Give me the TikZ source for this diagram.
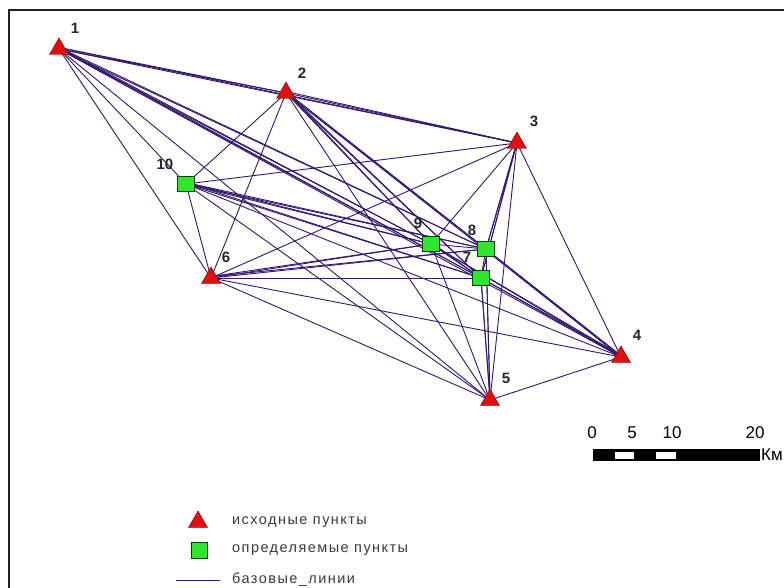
\documentclass[tikz,border=0pt]{standalone}
\usepackage{fontspec}
\setmainfont{Liberation Sans}
\usetikzlibrary{shapes.geometric}

\definecolor{liniya}{HTML}{33186E}
\definecolor{krasn}{HTML}{E01010}
\definecolor{zel}{HTML}{2EE62E}
\definecolor{ramka}{HTML}{222222}
\definecolor{legtext}{HTML}{3A3A3A}

\tikzset{
	ishod/.style = {regular polygon, regular polygon sides = 3, fill = krasn, draw = red!45!black, line width = 0.4pt, minimum size = 22pt, inner sep = 0pt},
	opred/.style = {rectangle, fill = zel, draw = green!25!black, line width = 0.5pt, minimum width = 17pt, minimum height = 15pt, inner sep = 0pt},
	bazlinija/.style = {liniya, line width = 0.9pt},
	nomer/.style = {font = \fontsize{15}{15}\selectfont\bfseries, text = black!85, inner sep = 0pt},
	shkala/.style = {font = \fontsize{17}{17}\selectfont, inner sep = 0pt},
	legenda/.style = {font = \fontsize{14.5}{15}\selectfont\addfontfeature{LetterSpace = 10}, text = legtext, inner sep = 0pt, anchor = west},
}

\begin{document}
\begin{tikzpicture}[x = 1pt, y = -1pt]
	\useasboundingbox (0, 0) rectangle (784, 588);
	\fill[white] (0, 0) rectangle (784, 588);
	
	%	ramka
	\draw[ramka, line width = 2pt] (9, 600) -- (9, 10) -- (790, 10);
	
	%	punkty
	\coordinate (p1) at (59, 49);
	\coordinate (p2) at (286, 93);
	\coordinate (p3) at (517, 143);
	\coordinate (p4) at (621, 357);
	\coordinate (p5) at (490, 400);
	\coordinate (p6) at (211, 278);
	\coordinate (p7) at (481, 278);
	\coordinate (p8) at (486, 249);
	\coordinate (p9) at (431, 244);
	\coordinate (p10) at (186, 184);
	
	%	bazovye linii - kazhdyj s kazhdym
	\foreach \a [evaluate = \a as \s using int(\a + 1)] in {1, ..., 9}
		\foreach \b in {\s, ..., 10}
			\draw[bazlinija] (p\a) -- (p\b);
	
	%	povtornye sessii - linii chut' sdvinuty
	\foreach \a/\b in {1/2, 2/3, 1/3, 10/9, 10/7, 10/8, 6/9, 6/8, 2/9, 2/8, 2/7,
			1/9, 1/8, 1/7, 4/7, 4/8, 4/9, 3/7, 3/8, 5/7, 5/8, 9/7}
		\draw[bazlinija] ([yshift = 1.5pt]p\a) -- (p\b);
	
	%	znachki
	\foreach \i in {1, ..., 6}
		\node[ishod] (t\i) at (p\i) {};
	\foreach \i in {7, ..., 10}
		\node[opred] (k\i) at (p\i) {};
	
	%	nomera
	\node[nomer] (n1) at (75, 28) {1};
	\node[nomer] (n2) at (302, 73) {2};
	\node[nomer] (n3) at (534, 121) {3};
	\node[nomer] (n4) at (637, 335) {4};
	\node[nomer] (n5) at (506, 378) {5};
	\node[nomer] (n6) at (226, 257) {6};
	\node[nomer] (n7) at (467, 257) {7};
	\node[nomer] (n8) at (472, 230) {8};
	\node[nomer] (n9) at (418, 223) {9};
	\node[nomer] (n10) at (165, 164) {10};
	
	%	masshtab
	\fill[black] (593, 449) rectangle (760, 461);
	\fill[white] (615, 452) rectangle (634, 459);
	\fill[white] (656, 452) rectangle (676, 459);
	\node[shkala] (s0) at (592, 433) {0};
	\node[shkala] (s5) at (632, 433) {5};
	\node[shkala] (s10) at (672, 433) {10};
	\node[shkala] (s20) at (755, 433) {20};
	\node[shkala, anchor = west] (km) at (761, 455) {Км};
	
	%	legenda
	\node[ishod] (lt) at (198, 522) {};
	\node[opred, minimum width = 16pt, minimum height = 16pt] (lk) at (199, 550) {};
	\coordinate (la) at (176, 580);
	\coordinate (lb) at (220, 580);
	\draw[bazlinija] (la) -- (lb);
	\node[legenda] (lt1) at (232, 522) {исходные пункты};
	\node[legenda] (lt2) at (232, 550) {определяемые пункты};
	\node[legenda] (lt3) at (232, 580) {базовые\_линии};
\end{tikzpicture}
\end{document}
